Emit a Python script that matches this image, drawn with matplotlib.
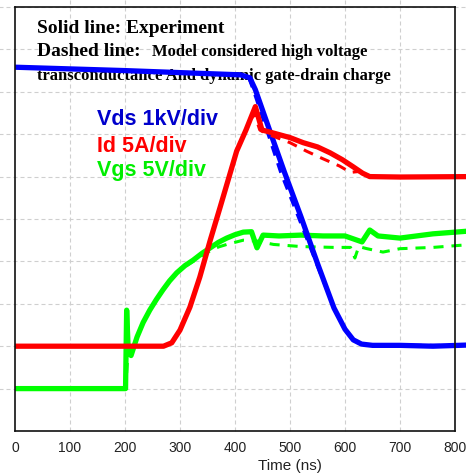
import matplotlib
matplotlib.use("Agg")
import matplotlib.pyplot as plt

# ---- data (time in ns, values in divisions) ----
vds_t = [0, 200, 410, 427, 437, 460, 490, 520, 550, 580, 600, 615, 630, 650, 700, 760, 830]
vds_v = [8.58, 8.5, 8.4, 8.33, 8.05, 7.2, 6.1, 5.05, 3.95, 2.9, 2.4, 2.15, 2.05, 2.02, 2.02, 2.0, 2.03]
vds_model_t = [0, 200, 410, 425, 433, 455, 483, 515, 548, 580, 600, 615, 630, 650, 830]
vds_model_v = [8.58, 8.5, 8.4, 8.33, 8.05, 7.2, 6.1, 5.05, 3.95, 2.9, 2.4, 2.15, 2.05, 2.02, 2.02]

id_t = [0, 270, 285, 300, 318, 336, 355, 373, 403, 420, 437, 449, 469, 500, 524, 550, 573, 595, 615, 632, 645, 700, 830]
id_v = [2.0, 2.0, 2.08, 2.38, 2.92, 3.63, 4.5, 5.28, 6.6, 7.1, 7.65, 7.1, 7.03, 6.92, 6.8, 6.7, 6.56, 6.4, 6.23, 6.08, 6.0, 5.99, 6.0]
id_model_t = [0, 270, 285, 300, 318, 336, 355, 373, 403, 420, 435, 445, 460, 500, 530, 560, 590, 610, 625, 645, 700, 830]
id_model_v = [2.0, 2.0, 2.08, 2.38, 2.92, 3.63, 4.5, 5.28, 6.6, 7.1, 7.5, 7.1, 7.0, 6.8, 6.6, 6.42, 6.25, 6.1, 6.12, 6.0, 6.0, 6.0]

vgs_t = [0, 201, 203, 206, 211, 222, 233, 245, 257, 269, 281, 294, 309, 324, 340, 355, 370, 385, 400, 415, 430, 440, 451, 480, 520, 560, 600, 631, 645, 660, 700, 760, 830]
vgs_v = [1.0, 1.0, 2.85, 1.85, 1.78, 2.22, 2.56, 2.85, 3.1, 3.33, 3.54, 3.73, 3.9, 4.03, 4.19, 4.32, 4.45, 4.55, 4.63, 4.69, 4.7, 4.32, 4.62, 4.6, 4.62, 4.6, 4.6, 4.46, 4.74, 4.6, 4.55, 4.65, 4.72]
vgs_model_t = [0, 201, 205, 211, 222, 233, 245, 257, 269, 281, 294, 309, 324, 340, 355, 370, 385, 415, 440, 470, 520, 580, 610, 618, 625, 640, 669, 700, 760, 830]
vgs_model_v = [1.0, 1.0, 1.75, 1.8, 2.22, 2.56, 2.85, 3.1, 3.33, 3.54, 3.73, 3.88, 4.0, 4.14, 4.25, 4.34, 4.4, 4.5, 4.48, 4.4, 4.35, 4.33, 4.33, 4.08, 4.35, 4.3, 4.22, 4.3, 4.33, 4.4]

x_ticks = [0, 100, 200, 300, 400, 500, 600, 700, 800]
y_grid = [1, 2, 3, 4, 5, 6, 7, 8, 9, 10]

BLUE = "#0000ff"
RED = "#ff0000"
GREEN = "#00ff00"

W, H = 466, 475
fig = plt.figure(figsize=(W / 100, H / 100), dpi=100)
ax = fig.add_axes([15 / W, 1 - 431 / H, 440 / W, 424 / H])
ax.set_xlim(0, 800)
ax.set_ylim(0, 10)

# grid (extends beyond the frame like the original)
gkw = dict(color="#cfcfcf", lw=0.8, dashes=(3.6, 2.7), clip_on=False, zorder=0)
for v in y_grid:
    ax.plot([-40, 840], [v, v], **gkw)
for t in x_ticks[1:-1]:
    ax.plot([t, t], [0, 10.5], **gkw)

sol = dict(lw=3.8, solid_capstyle="butt", clip_on=False)
dsh = dict(lw=2.2, dashes=(3.3, 2.6), clip_on=False)
ax.plot(vgs_t, vgs_v, color=GREEN, zorder=2, **sol)
ax.plot(vgs_model_t, vgs_model_v, color=GREEN, zorder=2.5, **dsh)
ax.plot(vds_t, vds_v, color=BLUE, zorder=3, **sol)
ax.plot(vds_model_t, vds_model_v, color=BLUE, zorder=3.5, **dsh)
ax.plot(id_t, id_v, color=RED, zorder=4, **sol)
ax.plot(id_model_t, id_model_v, color=RED, zorder=4.5, **dsh)

ax.set_xticks(x_ticks)
ax.set_xticklabels([str(t) for t in x_ticks])
ax.set_yticks([])
ax.tick_params(axis="x", length=0, pad=7, labelsize=10, labelcolor="#222222")
for lab in ax.get_xticklabels():
    lab.set_family(["Liberation Sans", "DejaVu Sans"])
for s in ax.spines.values():
    s.set_linewidth(1.2)
    s.set_color("#111111")
    s.set_zorder(5)

ax.set_xlabel("Time (ns)", fontsize=11, color="#222222",
              family=["Liberation Sans", "DejaVu Sans"])
ax.xaxis.set_label_coords((290 - 15) / 440, -0.065)

# annotations (drawn beneath the traces, as in the original)
serif = ["Liberation Serif", "DejaVu Serif"]
tf = fig.transFigure
ax.text(37 / W, 1 - 33 / H, "Solid line: Experiment", fontsize=14, transform=tf,
        fontweight="bold", family=serif, va="baseline", zorder=1, clip_on=False)
ax.text(37 / W, 1 - 56 / H, "Dashed line:", fontsize=14, transform=tf,
        fontweight="bold", family=serif, va="baseline", zorder=1, clip_on=False)
ax.text(152 / W, 1 - 56 / H, "Model considered high voltage", fontsize=12, transform=tf,
        fontweight="bold", family=serif, va="baseline", zorder=1, clip_on=False)
ax.text(37 / W, 1 - 80 / H, "transconductance And dynamic gate-drain charge", transform=tf,
        fontsize=12, fontweight="bold", family=serif, va="baseline", zorder=1, clip_on=False)

sans = ["Liberation Sans", "DejaVu Sans"]
ax.text((97 - 15) / 440, 1 - (125 - 7) / 424, "Vds 1kV/div", transform=ax.transAxes,
        fontsize=15.5, fontweight="bold", family=sans, color="#0000cc", va="baseline", zorder=6)
ax.text((97 - 15) / 440, 1 - (152 - 7) / 424, "Id 5A/div", transform=ax.transAxes,
        fontsize=15.5, fontweight="bold", family=sans, color="#ff0000", va="baseline", zorder=6)
ax.text((97 - 15) / 440, 1 - (176 - 7) / 424, "Vgs 5V/div", transform=ax.transAxes,
        fontsize=15.5, fontweight="bold", family=sans, color="#00ee00", va="baseline", zorder=6)

fig.savefig("out.png", dpi=100)
